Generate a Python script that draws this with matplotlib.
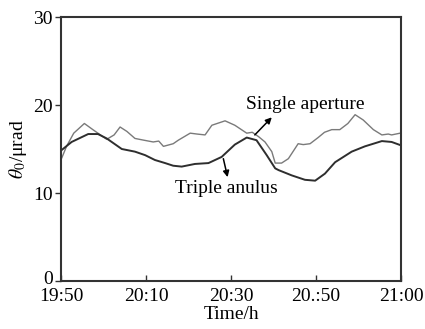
import matplotlib
matplotlib.use("Agg")
import matplotlib.pyplot as plt
from matplotlib.transforms import ScaledTranslation

plt.rcParams['font.family'] = ['Liberation Serif', 'DejaVu Serif']
plt.rcParams['mathtext.fontset'] = 'stix'

# minutes since 19:50 (axis drawn 0..80 with evenly spaced labels)
single_x = [0.2, 1.3, 3.0, 5.5, 7.5, 10.75, 12.5, 13.9, 15.5, 17.4, 19.5, 21.7, 23.0, 24.1,
            26.4, 27.6, 30.4, 32.0, 33.9, 35.5, 38.6, 40.9, 43.7, 45.0, 46.5, 48.0,
            49.6, 50.4, 51.9, 53.5, 55.8, 57.0, 58.6, 60.5, 62.0, 63.7, 65.6, 67.5,
            69.2, 71.1, 73.5, 75.5, 77.0, 77.8, 79.8]
single_y = [14.0, 15.3, 16.8, 17.9, 17.2, 16.1, 16.6, 17.5, 17.0, 16.2, 16.0, 15.8, 15.9, 15.3,
            15.6, 16.0, 16.8, 16.7, 16.6, 17.7, 18.2, 17.7, 16.8, 16.9, 16.4, 15.8,
            14.7, 13.4, 13.4, 13.9, 15.6, 15.5, 15.6, 16.3, 16.9, 17.2, 17.2, 17.9,
            18.9, 18.3, 17.2, 16.6, 16.7, 16.6, 16.8]

triple_x = [0.2, 2.5, 6.4, 8.7, 10.75, 14.3, 17.4, 19.8, 22.1, 24.5, 26.4, 28.4, 31.5,
            34.7, 37.8, 40.9, 43.7, 46.0, 48.4, 50.4, 51.2, 54.3, 57.4, 59.8, 62.1,
            64.5, 68.4, 71.5, 75.5, 77.8, 79.8]
triple_y = [14.9, 15.8, 16.7, 16.7, 16.2, 15.0, 14.7, 14.3, 13.75, 13.4, 13.1, 13.0, 13.3,
            13.4, 14.1, 15.5, 16.3, 16.0, 14.3, 12.8, 12.6, 12.0, 11.5, 11.4, 12.2,
            13.5, 14.7, 15.3, 15.9, 15.8, 15.45]

xticks = [0, 20, 40, 60, 80]
xtick_labels = ['19:50', '20:10', '20:30', '20.:50', '21:00']
yticks = [0, 10, 20, 30]

FS = 14

fig = plt.figure(figsize=(4.25, 3.29), dpi=100)
ax = fig.add_axes([61/425, 1-281/329, 340/425, 264/329])

ax.plot(single_x, single_y, color='#7a7a7a', lw=1.0)
ax.plot(triple_x, triple_y, color='#2e2e2e', lw=1.4)

ax.set_xlim(0, 80)
ax.set_ylim(0, 30)
ax.set_xticks(xticks)
ax.set_xticklabels(xtick_labels)
ax.set_yticks(yticks)
ax.tick_params(axis='x', direction='in', length=4, width=1, labelsize=FS, pad=5, color='#333333')
ax.tick_params(axis='y', direction='out', length=4, width=1, labelsize=FS, pad=2, color='#333333')
for s in ax.spines.values():
    s.set_linewidth(1.5)
    s.set_color('#333333')

# lift the "0" label slightly, as in the reference
ylabels = ax.get_yticklabels()
ylabels[0].set_transform(ylabels[0].get_transform() + ScaledTranslation(0, 3/100, fig.dpi_scale_trans))

ax.set_xlabel('Time/h', fontsize=FS, labelpad=1)
ax.set_ylabel(r'$\theta_0$/μrad', fontsize=FS, labelpad=3)

ax.annotate('', xy=(49.6, 18.6), xytext=(45.6, 16.6),
            arrowprops=dict(arrowstyle='-|>', color='black', lw=1.1, mutation_scale=9,
                            shrinkA=0, shrinkB=0))
ax.text(57.4, 20.1, 'Single aperture', fontsize=FS, ha='center', va='center')

ax.annotate('', xy=(39.2, 11.8), xytext=(38.2, 13.9),
            arrowprops=dict(arrowstyle='-|>', color='black', lw=1.1, mutation_scale=9,
                            shrinkA=0, shrinkB=0))
ax.text(38.8, 10.5, 'Triple anulus', fontsize=FS, ha='center', va='center')

fig.savefig('out.png', dpi=100)
